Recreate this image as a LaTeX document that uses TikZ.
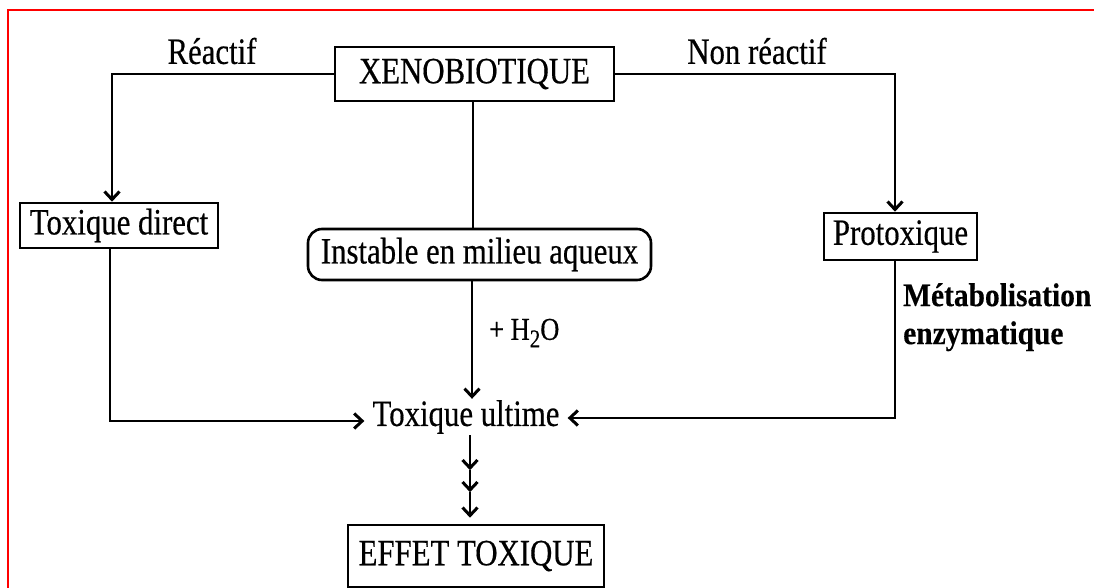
\documentclass[tikz,border=0pt]{standalone}
\usepackage{fontspec}
\usepackage{graphicx}
\setmainfont{Liberation Serif}[FakeBold=0.5]
\newfontfamily\metafont{Liberation Serif}[FakeBold=0.3]
\usetikzlibrary{arrows.meta}
\newcommand\cx[1]{\scalebox{0.88}[1.06]{#1}}
\tikzset{
  line/.style={line width=2.6pt, line join=miter},
  arr/.style={line, -{Straight Barb[length=8pt,width=15pt,line width=3pt]}},
  bx/.style={draw, line width=2.6pt, inner sep=0pt, align=center, font=\fontsize{35}{38}\selectfont},
  lbl/.style={inner sep=0pt, font=\fontsize{35}{38}\selectfont},
}
\begin{document}
\begin{tikzpicture}[x=1pt,y=-1pt]
\useasboundingbox (0,0) rectangle (1094,588);
\fill[white] (0,0) rectangle (1094,588);
\draw[red, line width=2.2pt] (8,588) -- (8,10) -- (1094,10);

\node[bx, minimum width=279, minimum height=54] (xeno) at (474.5,74) {\cx{XENOBIOTIQUE}};
\node[bx, minimum width=198, minimum height=45] (tdir) at (119,225.5) {\cx{Toxique direct}};
\node[bx, minimum width=153, minimum height=47] (proto) at (900.5,236.5) {\cx{Protoxique}};
\node[bx, rounded corners=14pt, minimum width=343, minimum height=51] (inst) at (479.5,254.5) {\cx{Instable en milieu aqueux}};
\node[lbl, inner xsep=8pt, minimum height=36] (ult) at (466,417) {\cx{Toxique ultime}};
\node[bx, minimum width=256, minimum height=62] (effet) at (476,556) {\cx{EFFET TOXIQUE}};

\node[lbl] (react) at (212,51) {\cx{Réactif}};
\node[lbl] (nonreact) at (757,51) {\cx{Non réactif}};
\node[lbl, anchor=west, font=\fontsize{30}{34}\selectfont] (h2o) at (489,333) {\cx{+ H\raisebox{-7pt}{\fontsize{24}{26}\selectfont 2}O}};
\node[lbl, anchor=north west, align=left, font=\fontsize{32}{38}\metafont\bfseries] (meta) at (903,283) {\scalebox{0.92}[1.03]{Métabolisation}\\\scalebox{0.92}[1.03]{enzymatique}};

\draw[arr] (xeno.west) -| ([xshift=-7pt]tdir.north);
\draw[arr] (xeno.east) -| ([xshift=-5.5pt]proto.north);
\draw[line] ([xshift=-1.5pt]xeno.south) -- ([xshift=-1.5pt]xeno.south |- inst.north);
\draw[arr] ([xshift=-7.5pt]inst.south) -- ([xshift=-7.5pt]inst.south |- ult.north);
\draw[arr] ([xshift=-9pt]tdir.south) |- ([yshift=-4pt]ult.west);
\draw[arr] ([xshift=-5.5pt]proto.south) |- ([yshift=-1pt]ult.east);
\draw[arr] ([xshift=4pt]ult.south) -- ++(0,35) coordinate (a1);
\draw[arr] (a1) -- ++(0,22) coordinate (a2);
\draw[arr] (a2) -- (a2 |- effet.north) [shorten >=6pt];
\end{tikzpicture}
\end{document}
